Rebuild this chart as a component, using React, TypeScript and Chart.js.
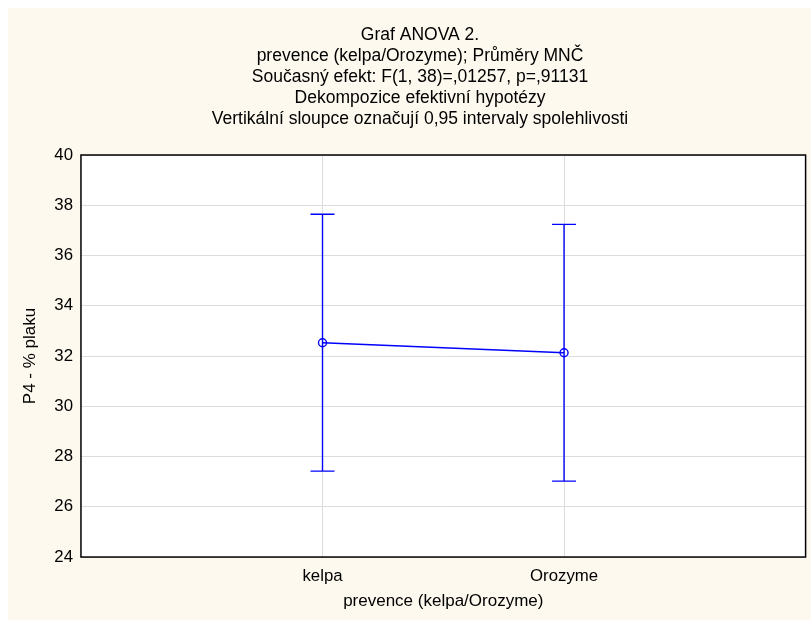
import React, { useEffect, useRef } from "react";
import { Chart, registerables } from "chart.js";

Chart.register(...registerables);

const categories = ["kelpa", "Orozyme"];
const means = [32.53, 32.13];
const lowerCI = [27.42, 27.02];
const upperCI = [37.64, 37.24];
const yTicks = [24, 26, 28, 30, 32, 34, 36, 38, 40];
const titleLines = [
  "Graf ANOVA 2.",
  "prevence (kelpa/Orozyme); Průměry MNČ",
  "Současný efekt: F(1, 38)=,01257, p=,91131",
  "Dekompozice efektivní hypotézy",
  "Vertikální sloupce označují 0,95 intervaly spolehlivosti",
];
const xTitle = "prevence (kelpa/Orozyme)";
const yTitle = "P4 - % plaku";

const FONT = "'Liberation Sans', Arial, sans-serif";
const BLUE = "#0000ff";

export default function App() {
  const ref = useRef<HTMLCanvasElement | null>(null);

  useEffect(() => {
    if (!ref.current) return;
    const bgPlugin = {
      id: "bgPlugin",
      beforeDraw(chart: any) {
        const { ctx, chartArea } = chart;
        ctx.save();
        ctx.fillStyle = "#fdf9ee";
        ctx.fillRect(0, 0, chart.width, chart.height);
        ctx.fillStyle = "#ffffff";
        ctx.fillRect(chartArea.left, chartArea.top, chartArea.right - chartArea.left, chartArea.bottom - chartArea.top);
        ctx.restore();
      },
      afterDatasetsDraw(chart: any) {
        const { ctx } = chart;
        const xs = chart.scales.x;
        const ys = chart.scales.y;
        ctx.save();
        ctx.strokeStyle = BLUE;
        ctx.lineWidth = 1.4;
        categories.forEach((_, i) => {
          const px = xs.getPixelForValue(i + 1);
          const pl = ys.getPixelForValue(lowerCI[i]);
          const pu = ys.getPixelForValue(upperCI[i]);
          ctx.beginPath();
          ctx.moveTo(px, pl);
          ctx.lineTo(px, pu);
          ctx.moveTo(px - 12, pl);
          ctx.lineTo(px + 12, pl);
          ctx.moveTo(px - 12, pu);
          ctx.lineTo(px + 12, pu);
          ctx.stroke();
        });
        ctx.restore();
      },
      afterDraw(chart: any) {
        const { ctx, chartArea } = chart;
        ctx.save();
        ctx.strokeStyle = "#000000";
        ctx.lineWidth = 1.5;
        ctx.strokeRect(chartArea.left, chartArea.top, chartArea.right - chartArea.left, chartArea.bottom - chartArea.top);
        ctx.restore();
      },
    };

    const chart = new Chart(ref.current, {
      type: "scatter",
      data: {
        datasets: [
          {
            data: means.map((m, i) => ({ x: i + 1, y: m })),
            showLine: true,
            borderColor: BLUE,
            borderWidth: 1.4,
            backgroundColor: "rgba(0,0,0,0)",
            pointRadius: 4,
            pointBorderWidth: 1.4,
            pointBorderColor: BLUE,
            pointBackgroundColor: "rgba(0,0,0,0)",
          },
        ],
      },
      options: {
        responsive: false,
        animation: false,
        layout: { padding: { left: 24, right: 3, top: 0, bottom: 0 } },
        plugins: {
          legend: { display: false },
          tooltip: { enabled: false },
          title: {
            display: true,
            text: titleLines,
            color: "#000000",
            font: { family: FONT, size: 17.5, weight: "normal", lineHeight: 1.2 },
            padding: { top: 16.5, bottom: 25.5 },
          },
        },
        scales: {
          x: {
            type: "linear",
            min: 0,
            max: 3,
            afterBuildTicks(scale: any) {
              scale.ticks = categories.map((_, i) => ({ value: i + 1 }));
            },
            ticks: {
              color: "#000000",
              font: { family: FONT, size: 16.8 },
              padding: 8.9,
              callback: (v: any) => categories[Number(v) - 1] ?? "",
            },
            grid: { color: "#dcdcdc", drawTicks: false, tickLength: 0, lineWidth: 1 },
            border: { display: false },
            title: {
              display: true,
              text: xTitle,
              color: "#000000",
              font: { family: FONT, size: 17 },
              padding: { top: -4.2, bottom: 8.8 },
            },
          },
          y: {
            min: 24,
            max: 40,
            afterBuildTicks(scale: any) {
              scale.ticks = yTicks.map((v) => ({ value: v }));
            },
            ticks: {
              color: "#000000",
              font: { family: FONT, size: 16.8 },
              padding: 8,
            },
            grid: { color: "#dcdcdc", drawTicks: false, tickLength: 0, lineWidth: 1 },
            border: { display: false },
            title: {
              display: true,
              text: yTitle,
              color: "#000000",
              font: { family: FONT, size: 17 },
              padding: { top: -12.2, bottom: 6.1 },
            },
          },
        },
      },
      plugins: [bgPlugin],
    } as any);
    return () => chart.destroy();
  }, []);

  return (
    <canvas
      ref={ref}
      width={803}
      height={612}
      style={{ display: "block", position: "fixed", left: 8, top: 8 }}
    />
  );
}
